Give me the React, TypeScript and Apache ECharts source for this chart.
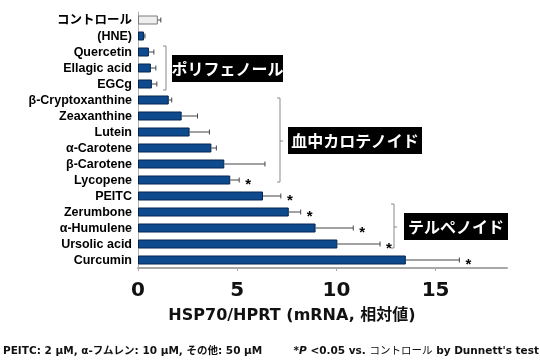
import React, { useEffect, useRef } from "react";
import * as echarts from "echarts";

const categories = [
  "コントロール", "(HNE)", "Quercetin", "Ellagic acid", "EGCg",
  "β-Cryptoxanthine", "Zeaxanthine", "Lutein", "α-Carotene", "β-Carotene",
  "Lycopene", "PEITC", "Zerumbone", "α-Humulene", "Ursolic acid", "Curcumin",
];
const means = [1.0, 0.3, 0.55, 0.65, 0.7, 1.55, 2.2, 2.6, 3.7, 4.35, 4.65, 6.3, 7.6, 8.95, 10.05, 13.5];
const errUpper = [1.15, 0.35, 0.8, 0.9, 0.95, 1.7, 3.0, 3.6, 3.95, 6.4, 5.1, 7.2, 8.2, 10.85, 12.2, 16.2];
const significant = [0, 0, 0, 0, 0, 0, 0, 0, 0, 0, 1, 1, 1, 1, 1, 1];
const xTicks = [0, 5, 10, 15];
const groupLabels = ["ポリフェノール", "血中カロテノイド", "テルペノイド"];
const axisTitle = "HSP70/HPRT (mRNA, 相対値)";
const footLeft = "PEITC: 2 μM, α-フムレン: 10 μM, その他: 50 μM";
const footRight = "P";

const FONT = "'Liberation Sans', 'Noto Sans CJK JP', sans-serif";
const WIDE = "'DejaVu Sans', 'Noto Sans CJK JP', sans-serif";
const BLUE = "#0e4a8e";

export default function App() {
  const ref = useRef<HTMLDivElement>(null);
  useEffect(() => {
    if (!ref.current) return;
    const chart = echarts.init(ref.current, null, { renderer: "svg" });
    const lineStyle = { stroke: "#8a8a8a", lineWidth: 1, fill: "none" };
    const box = (x: number, y: number, w: number, h: number, label: string) => ({
      type: "group",
      children: [
        { type: "rect", shape: { x, y, width: w, height: h }, style: { fill: "#000" } },
        {
          type: "text", x: x + w / 2, y: y + h / 2 + 1,
          style: { text: label, fill: "#fff", font: `bold 16px ${FONT}`, textAlign: "center", textVerticalAlign: "middle" },
        },
      ],
    });
    chart.setOption({
      animation: false,
      grid: { left: 138, right: 33, top: 12, bottom: 92, containLabel: false },
      xAxis: {
        type: "value", min: 0, max: 18.6, interval: 5,
        splitLine: { show: false },
        axisLine: { show: true, lineStyle: { color: "#a8a8a8", width: 2 } },
        axisTick: { show: true, length: 3, lineStyle: { color: "#a8a8a8" } },
        axisLabel: {
          margin: 11, fontSize: 20, fontWeight: "bold", color: "#111", fontFamily: "'DejaVu Sans', sans-serif",
          showMaxLabel: false,
          formatter: (v: number) => (xTicks.includes(v) ? String(v) : ""),
        },
      },
      yAxis: {
        type: "category", data: categories, inverse: true,
        axisTick: { show: false },
        axisLine: { show: true, lineStyle: { color: "#b0b0b0", width: 1 } },
        axisLabel: { interval: 0, margin: 6, fontSize: 12.5, fontWeight: "bold", color: "#000", fontFamily: FONT },
      },
      series: [
        {
          type: "bar",
          barWidth: 9,
          data: means.map((v, i) => ({
            value: v,
            itemStyle: i === 0
              ? { color: "#efefef", borderColor: "#7a7a7a", borderWidth: 1 }
              : { color: BLUE, borderColor: "#06254d", borderWidth: 1 },
          })),
        },
        {
          type: "custom",
          encode: { x: [1, 2], y: 0 },
          data: categories.map((_, i) => [i, means[i], errUpper[i], significant[i]]),
          z: 5,
          renderItem: (params: any, api: any) => {
            const idx = api.value(0);
            const p0 = api.coord([api.value(1), idx]);
            const p1 = api.coord([api.value(2), idx]);
            const children: any[] = [
              { type: "line", shape: { x1: p0[0], y1: p0[1], x2: p1[0], y2: p1[1] }, style: { stroke: "#444", lineWidth: 1 } },
              { type: "line", shape: { x1: p1[0], y1: p1[1] - 2.5, x2: p1[0], y2: p1[1] + 2.5 }, style: { stroke: "#444", lineWidth: 1 } },
            ];
            if (api.value(3)) {
              children.push({
                type: "text", x: p1[0] + 9, y: p1[1] + 3,
                style: { text: "*", fill: "#000", font: `bold 15px ${FONT}`, textAlign: "center", textVerticalAlign: "middle" },
              });
            }
            return { type: "group", children };
          },
        },
      ],
      graphic: [
        { type: "polyline", shape: { points: [[163, 46], [166, 46], [166, 90], [163, 90]] }, style: lineStyle },
        { type: "polyline", shape: { points: [[277, 98], [280, 98], [280, 182], [277, 182]] }, style: lineStyle },
        { type: "line", shape: { x1: 280, y1: 141, x2: 283, y2: 141 }, style: lineStyle },
        { type: "polyline", shape: { points: [[391, 204], [394, 204], [394, 248], [391, 248]] }, style: lineStyle },
        { type: "line", shape: { x1: 394, y1: 227, x2: 397, y2: 227 }, style: lineStyle },
        box(172, 55, 111, 27, groupLabels[0]),
        box(288, 127, 134, 27, groupLabels[1]),
        box(404, 213, 104, 27, groupLabels[2]),
        {
          type: "text", x: 292, y: 314,
          style: { text: axisTitle, fill: "#111", font: `bold 16px ${WIDE}`, textAlign: "center", textVerticalAlign: "middle" },
        },
        {
          type: "text", x: 3, y: 350,
          style: { text: footLeft, fill: "#111", font: `bold 10.5px ${WIDE}`, textAlign: "left", textVerticalAlign: "middle" },
        },
        {
          type: "text", x: 539, y: 350,
          style: {
            text: "{a|*}{b|" + footRight + "}{a| <0.05 vs. }{c|コントロール}{a| by Dunnett's test}",
            textAlign: "right", textVerticalAlign: "middle",
            rich: {
              a: { fontSize: 10.5, fontWeight: "bold", fontFamily: WIDE, fill: "#111" },
              b: { fontSize: 10.5, fontWeight: "bold", fontStyle: "italic", fontFamily: WIDE, fill: "#111" },
              c: { fontSize: 10.5, fontWeight: "normal", fontFamily: WIDE, fill: "#111" },
            },
          },
        },
      ],
    });
    return () => chart.dispose();
  }, []);
  return <div ref={ref} style={{ position: "fixed", left: 0, top: 0, width: 540, height: 360 }} />;
}
